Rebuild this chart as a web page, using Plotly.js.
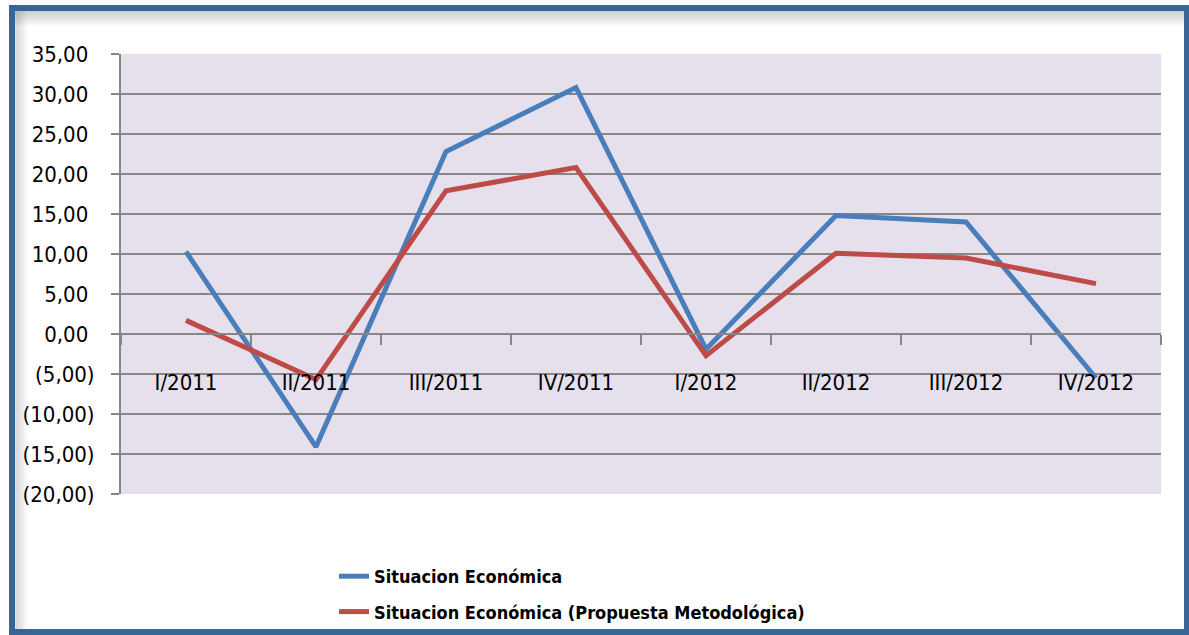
<!DOCTYPE html>
<html>
<head>
<meta charset="utf-8">
<script src="https://cdn.plot.ly/plotly-3.0.1.min.js"></script>
<style>
html,body{margin:0;padding:0;background:#fff;}
#chart{width:1189px;height:635px;}
</style>
</head>
<body>
<div id="chart"></div>
<script>
const categories = ['I/2011','II/2011','III/2011','IV/2011','I/2012','II/2012','III/2012','IV/2012'];
const situacion = [10.3, -14.1, 22.8, 30.8, -1.9, 14.8, 14.0, -5.5];
const propuesta = [1.7, -5.7, 17.9, 20.8, -2.7, 10.1, 9.5, 6.3];
const seriesNames = ['Situacion Económica', 'Situacion Económica (Propuesta Metodológica)'];
const yTickVals = [35, 30, 25, 20, 15, 10, 5, 0, -5, -10, -15, -20];

function fmt(v) {
  const s = Math.abs(v).toFixed(2).replace('.', ',');
  return v < 0 ? '(' + s + ')' : s + '\u00A0';
}
const yTickText = yTickVals.map(fmt);

const W = 1189, H = 635;
const L = 121, R = 28, T = 54, B = 141;
const pw = W - L - R, ph = H - T - B;
const px = x => (x - L) / pw;
const py = y => (H - B - y) / ph;

const FONT = '"DejaVu Sans Condensed", "Liberation Sans Narrow", sans-serif';

const shapes = [];
for (let i = 0; i < 8; i++) {
  const op = 0.35 * (1 - i / 8);
  shapes.push({type:'line', xref:'paper', yref:'paper', x0:px(15), x1:px(1184), y0:py(11 + i*2), y1:py(11 + i*2), line:{color:'rgba(110,110,110,' + op + ')', width:2}});
  shapes.push({type:'line', xref:'paper', yref:'paper', x0:px(16 + i*1.5), x1:px(16 + i*1.5), y0:py(11), y1:py(629), line:{color:'rgba(110,110,110,' + (op*0.8) + ')', width:1.5}});
}
shapes.push({type:'rect', xref:'paper', yref:'paper', x0:px(12), x1:px(1187), y0:py(8), y1:py(632), line:{color:'#3A6496', width:6}});

const traces = [
  {x: categories, y: situacion, name: seriesNames[0], legendgroup:'a', type:'scatter', mode:'lines', line:{color:'#4A7EBB', width:5}},
  {x: categories, y: propuesta, name: seriesNames[1], legendgroup:'b', type:'scatter', mode:'lines', line:{color:'#BE4B48', width:5}}
];

const layout = {
  width: W, height: H,
  margin: {l:L, r:R, t:T, b:B, pad:0, autoexpand:false},
  paper_bgcolor: '#ffffff',
  plot_bgcolor: '#E5E0EC',
  font: {family: FONT, color:'#000', size: 22},
  showlegend: true,
  legend: {
    x: px(334), xanchor:'left', y: py(558), yanchor:'top',
    bgcolor:'rgba(0,0,0,0)',
    font: {family: FONT, size: 18, weight: 'bold', color:'#000'},
    tracegroupgap: 9
  },
  xaxis: {
    type:'category',
    range:[-0.5, 7.5],
    anchor:'free', position: 20/55,
    showgrid:false, zeroline:false,
    showline:true, linecolor:'#868686', linewidth:2,
    ticks:'outside', ticklen:10, tickwidth:2, tickcolor:'#868686',
    tickson:'boundaries',
    ticklabelstandoff: 29,
    tickfont:{family: FONT, size: 22, color:'#000'},
    fixedrange:true
  },
  yaxis: {
    range:[-20, 35],
    tickvals: yTickVals, ticktext: yTickText,
    showgrid:true, gridcolor:'#868686', gridwidth:2,
    zeroline:false,
    showline:true, linecolor:'#868686', linewidth:2,
    ticks:'outside', ticklen:8, tickwidth:2, tickcolor:'#868686',
    ticklabelstandoff: 12,
    tickfont:{family: FONT, size: 22, color:'#000'},
    fixedrange:true
  },
  shapes: shapes
};

Plotly.newPlot('chart', traces, layout, {displayModeBar:false, staticPlot:true});
</script>
</body>
</html>
